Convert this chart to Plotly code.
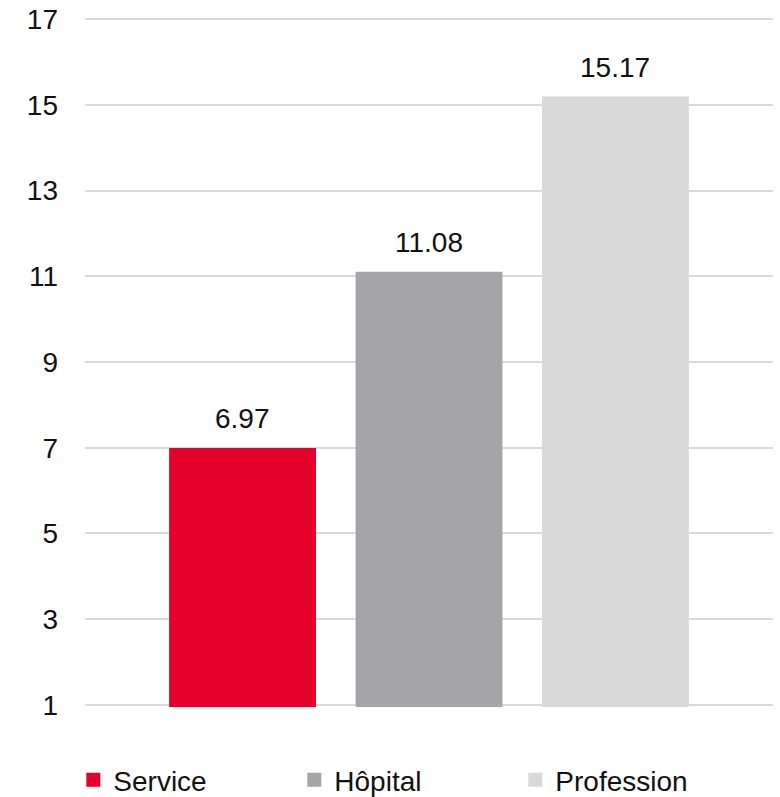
import plotly.graph_objects as go

categories = ["Service", "Hôpital", "Profession"]
values = [6.97, 11.08, 15.17]
colors = ["#E4002B", "#A5A5A9", "#D9D9D9"]
y_ticks = [1, 3, 5, 7, 9, 11, 13, 15, 17]

FONT = "Liberation Sans, Arial, sans-serif"
TEXT_COLOR = "#111111"

fig = go.Figure()
for cat, val, col in zip(categories, values, colors):
    fig.add_trace(go.Bar(
        x=[cat], y=[val], name=cat,
        # outline in the fill colour so the legend swatch is a bit larger
        marker=dict(color=col, line=dict(width=2, color=col)),
        width=0.777,
        hoverinfo="skip",
    ))

# value labels above each bar
for cat, val in zip(categories, values):
    fig.add_annotation(
        x=cat, y=val, text=f"{val:.2f}", showarrow=False,
        yanchor="bottom", yshift=13,
        font=dict(family=FONT, size=28, color=TEXT_COLOR),
    )

fig.update_layout(
    width=780, height=797,
    margin=dict(l=85, r=7, t=17, b=90, autoexpand=False),
    paper_bgcolor="white", plot_bgcolor="white",
    barmode="overlay",
    font=dict(family=FONT, size=28, color=TEXT_COLOR),
    showlegend=True,
    legend=dict(
        orientation="h",
        x=-0.017, xanchor="left",
        y=-0.106, yanchor="middle",
        font=dict(family=FONT, size=28, color=TEXT_COLOR),
        entrywidth=176, entrywidthmode="pixels",
        itemclick=False, itemdoubleclick=False,
        bgcolor="rgba(0,0,0,0)",
    ),
    xaxis=dict(
        type="category", categoryorder="array", categoryarray=categories,
        range=[-0.845, 2.845],
        showticklabels=False, showgrid=False, zeroline=False, showline=False,
        fixedrange=True,
    ),
    yaxis=dict(
        # small padding so the end gridlines at 1 and 17 are kept
        range=[0.95, 17.05], tickvals=y_ticks, ticktext=[str(t) for t in y_ticks],
        showgrid=True, gridcolor="#D9D9D9", gridwidth=2,
        zeroline=False, showline=False,
        ticks="", ticklabelstandoff=26,
        tickfont=dict(family=FONT, size=28, color=TEXT_COLOR),
        fixedrange=True,
    ),
)

fig.write_html("out.html")
